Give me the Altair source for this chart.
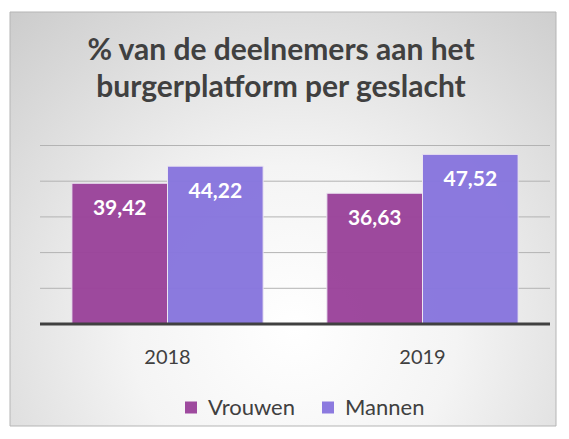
import altair as alt
import pandas as pd

years = ["2018", "2019"]
series = ["Vrouwen", "Mannen"]
vrouwen = [39.42, 36.63]
mannen = [44.22, 47.52]
grid_values = [10, 20, 30, 40, 50]
colors = ["#9b449b", "#8876de"]

rows = []
for i, y in enumerate(years):
    for s, vals in zip(series, [vrouwen, mannen]):
        v = vals[i]
        rows.append({"jaar": y, "geslacht": s, "waarde": v,
                     "label": f"{v:.2f}".replace(".", ",")})
df = pd.DataFrame(rows)

W, H = 510, 178.5

bg = alt.Chart(pd.DataFrame({"a": [0]})).mark_rect(
    fill=alt.Gradient(
        gradient="radial",
        x1=0.52, y1=0.7, r1=0.0,
        x2=0.52, y2=0.7, r2=0.85,
        stops=[alt.GradientStop(color="#ffffff", offset=0),
               alt.GradientStop(color="#f4f4f4", offset=0.35),
               alt.GradientStop(color="#c6c6c6", offset=1)],
    ),
    stroke="#b5b5b5", strokeWidth=1,
).encode(
    x=alt.value(-30), x2=alt.value(516),
    y=alt.value(-133.5), y2=alt.value(280.5),
)

yscale = alt.Scale(domain=[0, 50], nice=False)

grid = alt.Chart(pd.DataFrame({"g": grid_values})).mark_rule(
    color="#b3b3b3", strokeWidth=1
).encode(
    y=alt.Y("g:Q", scale=yscale, axis=None),
    x=alt.value(0), x2=alt.value(W),
)

xenc = alt.X("jaar:N", sort=years, title=None,
             scale=alt.Scale(paddingInner=0.25, paddingOuter=0.125),
             axis=alt.Axis(labelAngle=0, domain=False, ticks=False, zindex=1,
                           labelPadding=23, labelFont="Lato", labelFontSize=20,
                           labelColor="#404040", grid=False))

bars = alt.Chart(df).mark_bar(
    stroke="#ece6f2", strokeWidth=1, opacity=0.97
).encode(
    x=xenc,
    xOffset=alt.XOffset("geslacht:N", sort=series),
    y=alt.Y("waarde:Q", scale=yscale, title=None, axis=None),
    color=alt.Color("geslacht:N", sort=series,
                    scale=alt.Scale(domain=series, range=colors),
                    legend=alt.Legend(title=None, orient="none", direction="horizontal",
                                      legendX=140, legendY=251, symbolType="square",
                                      symbolSize=144, symbolStrokeWidth=0,
                                      labelFont="Lato", labelFontSize=22,
                                      labelColor="#404040", labelOffset=6,
                                      columnPadding=22, padding=0, zindex=1)),
)

labels = alt.Chart(df).mark_text(
    font="Lato", fontSize=21, fontWeight="bold", color="white",
    baseline="alphabetic", dy=32
).encode(
    x=alt.X("jaar:N", sort=years),
    xOffset=alt.XOffset("geslacht:N", sort=series),
    y=alt.Y("waarde:Q", scale=yscale),
    text="label:N",
)

base = alt.Chart(pd.DataFrame({"a": [0]})).mark_rule(
    color="#404040", strokeWidth=3
).encode(x=alt.value(0), x2=alt.value(W), y=alt.value(H))

chart = alt.layer(bg, grid, bars, labels, base).properties(
    width=W, height=H,
    title=alt.TitleParams(
        text=["% van de deelnemers aan het", "burgerplatform per geslacht"],
        font="Lato", fontSize=30, fontWeight="bold", color="#404040",
        anchor="middle", lineHeight=37, offset=-91, dx=-14, zindex=1,
    ),
    padding={"left": 32, "top": 137.5, "right": 8, "bottom": 104},
    autosize=alt.AutoSizeParams(type="none"),
    background="white",
).configure_view(stroke=None)

chart.save("out.html", embed_options={"renderer": "svg", "actions": False})
